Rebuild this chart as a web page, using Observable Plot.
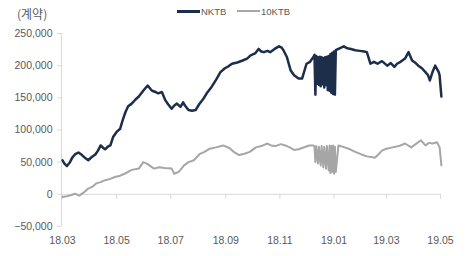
<!DOCTYPE html>
<html><head><meta charset="utf-8">
<script src="https://cdn.jsdelivr.net/npm/d3@7"></script>
<script src="https://cdn.jsdelivr.net/npm/@observablehq/plot@0.6"></script>
<style>
body{margin:0;background:#fff;font-family:"Liberation Sans",Arial,sans-serif;}
#wrap{width:468px;height:256px;position:relative;overflow:hidden}
#head{height:22px;position:relative;color:#595959;font-size:9.5px}
#unit{position:absolute;left:17px;top:6px;font-family:"Noto Sans CJK KR",sans-serif;font-size:12px;line-height:15px}
.lg{position:absolute;top:5px;height:12px;display:flex;align-items:center}
.lg span.sw{display:inline-block;width:23px;margin-right:1px}
</style></head><body>
<div id="wrap"><div id="head"><div id="unit">(계약)</div></div><div id="chart"></div></div>
<script>
const seriesNames = ["NKTB", "10KTB"];
const seriesColors = ["#1c2e4a", "#a6a6a6"];
const tickDates = ["2018-03-01","2018-05-01","2018-07-01","2018-09-01","2018-11-01","2019-01-01","2019-03-01","2019-05-01"];
const tickLabels = ["18.03","18.05","18.07","18.09","18.11","19.01","19.03","19.05"];
const yTicks = [-50000, 0, 50000, 100000, 150000, 200000, 250000];

const nktbDates = ["2018-03-01","2018-03-03","2018-03-06","2018-03-09","2018-03-12","2018-03-15","2018-03-19","2018-03-23","2018-03-27","2018-03-30","2018-04-03","2018-04-07","2018-04-10","2018-04-13","2018-04-16","2018-04-18","2018-04-21","2018-04-24","2018-04-27","2018-05-01","2018-05-05","2018-05-08","2018-05-11","2018-05-14","2018-05-18","2018-05-22","2018-05-26","2018-05-31","2018-06-03","2018-06-05","2018-06-08","2018-06-10","2018-06-14","2018-06-17","2018-06-21","2018-06-25","2018-06-28","2018-07-02","2018-07-05","2018-07-08","2018-07-12","2018-07-15","2018-07-17","2018-07-21","2018-07-25","2018-07-29","2018-08-02","2018-08-07","2018-08-11","2018-08-16","2018-08-21","2018-08-26","2018-08-31","2018-09-04","2018-09-08","2018-09-14","2018-09-20","2018-09-25","2018-09-29","2018-10-04","2018-10-08","2018-10-11","2018-10-14","2018-10-18","2018-10-21","2018-10-26","2018-10-31","2018-11-03","2018-11-05","2018-11-09","2018-11-13","2018-11-17","2018-11-22","2018-11-26","2018-12-01","2018-12-05","2018-12-09","2018-12-10","2018-12-11","2018-12-12","2018-12-13","2018-12-14","2018-12-15","2018-12-16","2018-12-17","2018-12-18","2018-12-19","2018-12-20","2018-12-21","2018-12-22","2018-12-23","2018-12-24","2018-12-25","2018-12-26","2018-12-27","2018-12-28","2018-12-29","2018-12-30","2018-12-31","2019-01-01","2019-01-02","2019-01-03","2019-01-06","2019-01-09","2019-01-12","2019-01-16","2019-01-20","2019-01-25","2019-01-30","2019-02-04","2019-02-07","2019-02-11","2019-02-15","2019-02-19","2019-02-24","2019-03-02","2019-03-06","2019-03-10","2019-03-13","2019-03-17","2019-03-22","2019-03-26","2019-03-30","2019-04-03","2019-04-06","2019-04-10","2019-04-14","2019-04-17","2019-04-19","2019-04-22","2019-04-25","2019-04-29","2019-04-30","2019-05-02"];
const nktbValues = [53000,48000,44000,49000,57000,62000,65000,61000,56000,53000,58000,62000,68000,76000,72000,70000,74000,76000,89000,97000,102000,116000,128000,137000,141000,147000,152000,161000,166000,169000,164000,161000,159000,157000,159000,146000,140000,133000,138000,141000,136000,143000,138000,131000,130000,131000,140000,149000,158000,167000,178000,190000,196000,199000,203000,205000,208000,211000,216000,219000,226000,222000,221000,223000,221000,226000,230000,228000,224000,213000,193000,185000,180000,180000,203000,206000,214000,217000,155000,215000,172000,213000,170000,214000,168000,213000,171000,212000,166000,213000,170000,214000,162000,215000,161000,218000,158000,220000,156000,222000,155000,224000,226000,228000,230000,227000,226000,224000,223000,222000,221000,203000,206000,203000,207000,200000,204000,198000,203000,206000,211000,221000,208000,204000,200000,196000,190000,185000,177000,190000,200000,190000,185000,152000];

const ktbDates = ["2018-03-01","2018-03-06","2018-03-11","2018-03-15","2018-03-20","2018-03-25","2018-03-30","2018-04-04","2018-04-08","2018-04-13","2018-04-18","2018-04-24","2018-04-29","2018-05-05","2018-05-10","2018-05-18","2018-05-26","2018-05-31","2018-06-05","2018-06-12","2018-06-18","2018-06-24","2018-07-02","2018-07-05","2018-07-10","2018-07-16","2018-07-21","2018-07-27","2018-08-03","2018-08-08","2018-08-14","2018-08-21","2018-08-29","2018-09-05","2018-09-10","2018-09-16","2018-09-22","2018-09-28","2018-10-05","2018-10-11","2018-10-18","2018-10-22","2018-10-27","2018-11-02","2018-11-07","2018-11-12","2018-11-17","2018-11-22","2018-11-26","2018-12-04","2018-12-09","2018-12-10","2018-12-11","2018-12-12","2018-12-14","2018-12-15","2018-12-17","2018-12-18","2018-12-20","2018-12-21","2018-12-23","2018-12-24","2018-12-26","2018-12-27","2018-12-28","2018-12-29","2018-12-30","2018-12-31","2019-01-01","2019-01-02","2019-01-03","2019-01-06","2019-01-13","2019-01-19","2019-01-25","2019-02-01","2019-02-07","2019-02-12","2019-02-16","2019-02-20","2019-02-24","2019-03-01","2019-03-08","2019-03-15","2019-03-22","2019-03-29","2019-04-03","2019-04-09","2019-04-14","2019-04-18","2019-04-22","2019-04-27","2019-04-30","2019-05-02"];
const ktbValues = [-4000,-3000,-1000,1000,-2000,3000,9000,12000,17000,19000,22000,24000,27000,29000,32000,38000,40000,50000,47000,40000,42000,41000,40000,32000,35000,45000,50000,53000,63000,66000,71000,73000,76000,72000,66000,61000,63000,66000,73000,75000,79000,76000,75000,78000,76000,73000,69000,70000,72000,76000,76000,74000,50000,75000,48000,74000,45000,75000,42000,74000,40000,75000,37000,76000,33000,75000,35000,76000,32000,74000,35000,76000,73000,70000,66000,62000,59000,58000,57000,62000,68000,71000,73000,75000,79000,73000,78000,84000,76000,80000,79000,81000,73000,45000];

// legend
const head = document.getElementById("head");
const lgPos = [177, 237];
seriesNames.forEach((n, i) => {
  const d = document.createElement("div");
  d.className = "lg";
  d.style.left = lgPos[i] + "px";
  d.innerHTML = `<span class="sw" style="height:${i===0?3:2.5}px;background:${seriesColors[i]}"></span><span>${n}</span>`;
  head.appendChild(d);
});

const parse = d3.utcParse("%Y-%m-%d");
const nktb = nktbDates.map((d, i) => ({date: parse(d), value: nktbValues[i]}));
const ktb = ktbDates.map((d, i) => ({date: parse(d), value: ktbValues[i]}));
const ticks = tickDates.map(parse);
const fmtTick = d => tickLabels[ticks.findIndex(t => +t === +d)];

const chart = Plot.plot({
  width: 468, height: 234,
  marginTop: 11, marginBottom: 30, marginLeft: 62, marginRight: 28,
  style: {fontFamily: "'Liberation Sans', Arial, sans-serif", fontSize: "10.5px", color: "#595959", background: "#fff"},
  x: {type: "utc", domain: [ticks[0], ticks[ticks.length - 1]]},
  y: {domain: [yTicks[0], yTicks[yTicks.length - 1]]},
  marks: [
    Plot.ruleX([ticks[0]], {x: d => d, stroke: "#d9d9d9", dx: -1}),
    Plot.ruleY([0], {stroke: "#d9d9d9"}),
    Plot.ruleX(ticks, {x: d => d, y1: 0, y2: 0, insetBottom: -5, stroke: "#d9d9d9"}),
    Plot.axisY({ticks: yTicks, tickFormat: d3.format(","), tickSize: 4, tickPadding: 5, stroke: "#d9d9d9", color: "#595959", label: null, dx: -1}),
    Plot.axisX({ticks: ticks, tickFormat: fmtTick, tickSize: 0, tickPadding: 10, color: "#595959", label: null}),
    Plot.line(ktb, {x: "date", y: "value", stroke: seriesColors[1], strokeWidth: 2}),
    Plot.line(nktb, {x: "date", y: "value", stroke: seriesColors[0], strokeWidth: 2.5})
  ]
});
document.getElementById("chart").appendChild(chart);
</script>
</body></html>
